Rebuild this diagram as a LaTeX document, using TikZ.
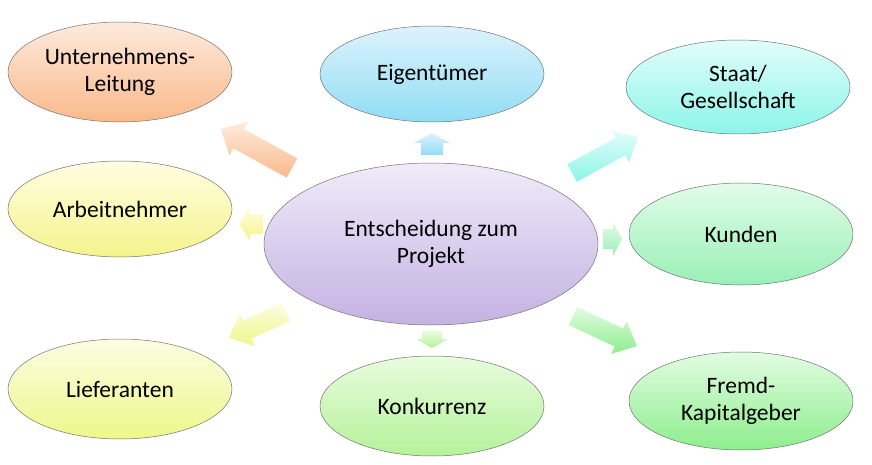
\documentclass[tikz,border=0pt]{standalone}
\usepackage{fontspec}
\setmainfont{Carlito}
\usetikzlibrary{shapes.geometric,calc}
\definecolor{ulT}{HTML}{FDEBDD}\definecolor{ulB}{HTML}{FAB98A}
\definecolor{eiT}{HTML}{DDF3FB}\definecolor{eiB}{HTML}{90DDF6}
\definecolor{stT}{HTML}{E2FDFB}\definecolor{stB}{HTML}{8CF5E8}
\definecolor{arT}{HTML}{FFFEE2}\definecolor{arB}{HTML}{F5F38C}
\definecolor{kuT}{HTML}{E2FCEA}\definecolor{kuB}{HTML}{98F0B5}
\definecolor{liT}{HTML}{FCFDE2}\definecolor{liB}{HTML}{EEF78A}
\definecolor{koT}{HTML}{E8FCDD}\definecolor{koB}{HTML}{B5F29A}
\definecolor{frT}{HTML}{E2FCE2}\definecolor{frB}{HTML}{8DEE8D}
\definecolor{ceT}{HTML}{F0EBF8}\definecolor{ceB}{HTML}{C4B2E2}
\tikzset{
  ell/.style={ellipse, draw=black!55, line width=0.5pt, inner sep=0pt,
    align=center, font=\fontsize{23.5}{27}\selectfont, minimum width=224pt, minimum height=98pt},
}
\newcommand\barrow[8]{%
  \coordinate (#1t) at (#2); \coordinate (#1p) at (#3);
  \coordinate (#1h) at ($(#1p)!#6!(#1t)$);
  \shade[top color=#7, bottom color=#8]
    ($(#1t)!#4!90:(#1p)$) -- ($(#1h)!#4!90:(#1p)$) -- ($(#1h)!#5!90:(#1p)$) --
    (#1p) -- ($(#1h)!#5!-90:(#1p)$) -- ($(#1h)!#4!-90:(#1p)$) --
    ($(#1t)!#4!-90:(#1p)$) -- cycle;}
\begin{document}
\begin{tikzpicture}[x=1pt,y=-1pt]
\useasboundingbox (0,0) rectangle (872,465);
% arrows
\barrow{a1}{292,168}{221,129}{11pt}{19pt}{20pt}{ulT}{ulB}
\barrow{a2}{432,155}{432,133}{11pt}{18pt}{10pt}{eiT}{eiB}
\barrow{a3}{572,173}{638,137}{10pt}{18pt}{20pt}{stT}{stB}
\barrow{a4}{263,224}{239,224}{10pt}{17pt}{11pt}{arT}{arB}
\barrow{a5}{603,239}{622,239}{10pt}{17pt}{9pt}{kuT}{kuB}
\barrow{a6}{286,312}{229,338}{10pt}{18pt}{20pt}{liT}{liB}
\barrow{a7}{432,331}{432,348}{10pt}{16pt}{9pt}{koT}{koB}
\barrow{a8}{573,316}{637,346}{10pt}{18pt}{20pt}{frT}{frB}
% nodes
\node[ell, minimum width=334pt, minimum height=162pt, top color=ceT, bottom color=ceB] (ce) at (431,244) {Entscheidung zum\\Projekt};
\node[ell, minimum height=100pt, top color=ulT, bottom color=ulB] (ul) at (120,72) {Unternehmens-\\Leitung};
\node[ell, minimum height=96pt, top color=eiT, bottom color=eiB] (ei) at (432,74) {Eigentümer};
\node[ell, minimum height=94pt, top color=stT, bottom color=stB] (st) at (738,87) {Staat/\\Gesellschaft};
\node[ell, minimum height=96pt, top color=arT, bottom color=arB] (ar) at (120,209) {Arbeitnehmer};
\node[ell, minimum height=102pt, top color=kuT, bottom color=kuB] (ku) at (741,234) {Kunden};
\node[ell, minimum height=100pt, top color=liT, bottom color=liB] (li) at (120,389) {Lieferanten};
\node[ell, minimum height=100pt, top color=koT, bottom color=koB] (ko) at (432,406) {Konkurrenz};
\node[ell, minimum height=98pt, top color=frT, bottom color=frB] (fr) at (741,401) {Fremd-\\Kapitalgeber};
\end{tikzpicture}
\end{document}
